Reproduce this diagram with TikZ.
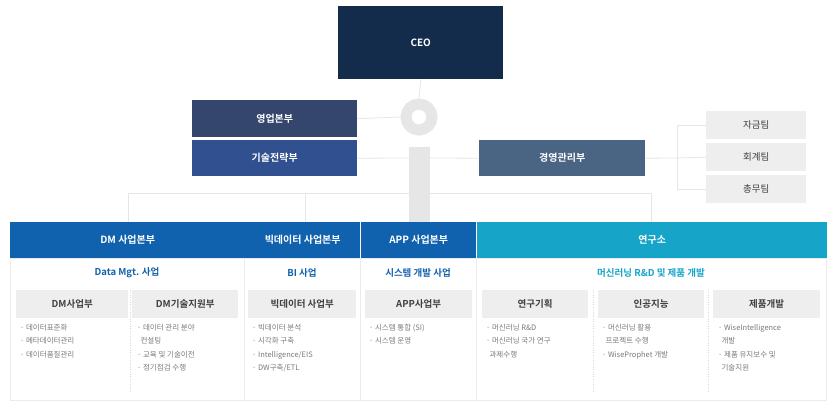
\documentclass[tikz,border=0pt]{standalone}
\usepackage{fontspec}
\setmainfont{Noto Sans CJK KR}
\newfontfamily\kb{Noto Sans CJK KR Bold}
\definecolor{ceo}{HTML}{142C4B}
\definecolor{sales}{HTML}{35466E}
\definecolor{tech}{HTML}{30508F}
\definecolor{mgmt}{HTML}{4A6584}
\definecolor{dmblue}{HTML}{1162AE}
\definecolor{lab}{HTML}{16A4C8}
\definecolor{lgray}{HTML}{E6E6E6}
\definecolor{txt}{HTML}{7A7A7A}
\definecolor{gbox}{HTML}{EEEEEE}
\tikzset{
 dark/.style={anchor=north west,inner sep=0,text=white,font=\kb\fontsize{10}{12}\selectfont},
 team/.style={anchor=north west,inner sep=0,fill=gbox,text=black!75,font=\fontsize{9.5}{11}\selectfont,minimum width=100pt,minimum height=28pt},
 band/.style={anchor=north west,inner sep=0,text=white,font=\kb\fontsize{10}{12}\selectfont,minimum height=36pt},
 sub/.style={font=\kb\fontsize{9.5}{11}\selectfont},
 dept/.style={anchor=north west,inner sep=0,fill=gbox,text=black!75,font=\kb\fontsize{9.5}{11}\selectfont,minimum height=28pt},
 blt/.style={anchor=north west,inner sep=0,text=txt,align=left,font=\fontsize{7.5}{13.5}\selectfont},
 conn/.style={draw=lgray,line width=0.8pt}
}
\begin{document}
\begin{tikzpicture}[x=1pt,y=-1pt]
\useasboundingbox[fill=white] (0,0) rectangle (834,409);
% connectors
\coordinate (hl) at (128,193);
\coordinate (hr) at (651,193);
\draw[conn] (128,222) -- (hl) -- (hr) -- (651,222);
\draw[conn] (305,193) -- (305,222);
\node[dark,fill=ceo,minimum width=165pt,minimum height=73pt] (ceo) at (338,6) {CEO};
\node[circle,draw=lgray,line width=11pt,minimum size=26pt,inner sep=0] (circ) at (419,117) {};
\fill[lgray] (409,147) rectangle (430,222);
\coordinate (bar) at (419,157);
\draw[conn] (ceo.south) -- (circ.north);
\node[dark,fill=sales,minimum width=165pt,minimum height=37pt] (sales) at (192,100) {영업본부};
\node[dark,fill=tech,minimum width=165pt,minimum height=36pt] (tech) at (192,140) {기술전략부};
\node[dark,fill=mgmt,minimum width=166pt,minimum height=36pt] (mgmt) at (479,140) {경영관리부};
\draw[conn] (sales.east) -- (circ.west);
\draw[conn] (tech.east) -- (409,158);
\draw[conn] (430,158) -- (mgmt.west);
\node[team] (t1) at (706,111) {자금팀};
\node[team] (t2) at (706,143) {회계팀};
\node[team] (t3) at (706,175) {총무팀};
\coordinate (bk) at (677,158);
\draw[conn] (mgmt.east) -- (bk);
\draw[conn] (t1.west) -| (bk) |- (t3.west);
\draw[conn] (bk) -- (t2.west);
% panel
\draw[draw=black!8,fill=white] (10,258) rectangle (826,400);
\node[band,fill=dmblue,minimum width=235pt] (b1) at (10,222) {DM 사업본부};
\node[band,fill=dmblue,minimum width=115pt] (b2) at (245,222) {빅데이터 사업본부};
\node[band,fill=dmblue,minimum width=115pt] (b3) at (361,222) {APP 사업본부};
\node[band,fill=lab,minimum width=350pt] (b4) at (477,222) {연구소};
\draw[black!8] (244.5,258) -- (244.5,400) (360.5,258) -- (360.5,400) (476.5,258) -- (476.5,400);
\draw[black!15,dotted] (130,290) -- (130,392) (593,290) -- (593,392) (708,290) -- (708,392);
\node[sub,text=dmblue] (s1) at (127,273) {Data Mgt. 사업};
\node[sub,text=dmblue] (s2) at (302,273) {BI 사업};
\node[sub,text=dmblue] (s3) at (418,273) {시스템 개발 사업};
\node[sub,text=lab] (s4) at (651,273) {머신러닝 R\&D 및 제품 개발};
\node[dept,minimum width=112pt] (d1) at (16,290) {DM사업부};
\node[dept,minimum width=106pt] (d2) at (132,290) {DM기술지원부};
\node[dept,minimum width=108pt] (d3) at (248,290) {빅데이터 사업부};
\node[dept,minimum width=107pt] (d4) at (365,290) {APP사업부};
\node[dept,minimum width=106pt] (d5) at (482,290) {연구기획};
\node[dept,minimum width=106pt] (d6) at (598,290) {인공지능};
\node[dept,minimum width=107pt] (d7) at (713,290) {제품개발};
\node[blt] (l1) at (20,324) {· 데이터표준화\\· 메타데이터관리\\· 데이터품질관리};
\node[blt] (l2) at (137,324) {· 데이터 관리 분야\\\ \ 컨설팅\\· 교육 및 기술이전\\· 정기점검 수행};
\node[blt] (l3) at (252,324) {· 빅데이터 분석\\· 시각화 구축\\· Intelligence/EIS\\· DW구축/ETL};
\node[blt] (l4) at (369,324) {· 시스템 통합 (SI)\\· 시스템 운영};
\node[blt] (l5) at (486,324) {· 머신러닝 R\&D\\· 머신러닝 국가 연구\\\ \ 과제수행};
\node[blt] (l6) at (602,324) {· 머신러닝 활용\\\ \ 프로젝트 수행\\· WiseProphet 개발};
\node[blt] (l7) at (718,324) {· WiseIntelligence\\\ \ 개발\\· 제품 유지보수 및\\\ \ 기술지원};
\end{tikzpicture}
\end{document}
